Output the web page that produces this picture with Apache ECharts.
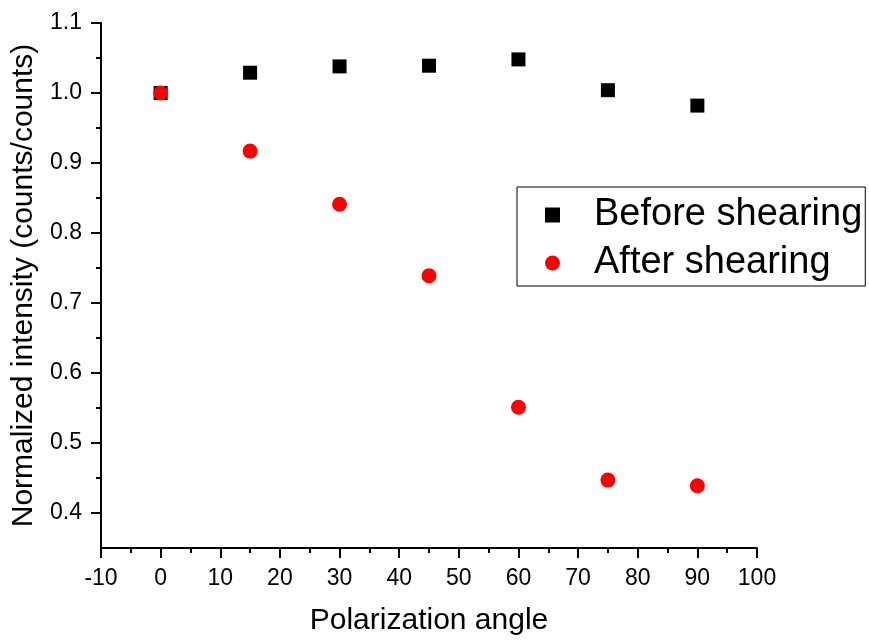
<!DOCTYPE html>
<html>
<head>
<meta charset="utf-8">
<script src="https://cdn.jsdelivr.net/npm/echarts@6/dist/echarts.min.js"></script>
<style>
  html, body { margin: 0; padding: 0; background: #fff; }
  #chart { width: 869px; height: 641px; }
</style>
</head>
<body>
<div id="chart"></div>
<script>
// Polarization angles (degrees)
const angles = [0, 15, 30, 45, 60, 75, 90];
// Normalized intensity before and after shearing
const beforeShearing = [1.000, 1.029, 1.038, 1.039, 1.048, 1.004, 0.982];
const afterShearing  = [1.000, 0.917, 0.841, 0.739, 0.551, 0.447, 0.439];
// Y axis tick values: labelled majors and unlabelled minors
const yMajorTicks = [0.4, 0.5, 0.6, 0.7, 0.8, 0.9, 1.0, 1.1];
const yMinorTicks = [0.45, 0.55, 0.65, 0.75, 0.85, 0.95, 1.05];

const font = 'Liberation Sans, Arial, sans-serif';
const chart = echarts.init(document.getElementById('chart'), null, { renderer: 'canvas' });

const pairs = arr => angles.map((a, i) => [a, arr[i]]);
const axisStroke = { color: '#000', width: 2 };

chart.setOption({
  animation: false,
  backgroundColor: '#ffffff',
  grid: { left: 101, right: 112, top: 23, bottom: 91 },
  xAxis: {
    type: 'value',
    min: -10, max: 100, interval: 10,
    name: 'Polarization angle',
    nameLocation: 'middle',
    nameGap: 58,
    nameTextStyle: { fontFamily: font, fontSize: 30, color: '#000' },
    axisLine: { show: true, onZero: false, lineStyle: axisStroke },
    axisTick: { show: true, inside: false, length: 10, lineStyle: axisStroke },
    minorTick: { show: true, splitNumber: 2, length: 5, lineStyle: axisStroke },
    axisLabel: { fontFamily: font, fontSize: 23, color: '#000', margin: 19 },
    splitLine: { show: false }
  },
  yAxis: [
    {
      type: 'value',
      min: 0.35, max: 1.1,
      name: 'Normalized intensity (counts/counts)',
      nameLocation: 'middle',
      nameGap: 57,
      nameTextStyle: { fontFamily: font, fontSize: 30, color: '#000' },
      axisLine: { show: true, onZero: false, lineStyle: axisStroke },
      axisTick: { show: true, inside: false, length: 10, customValues: yMajorTicks, lineStyle: axisStroke },
      axisLabel: {
        fontFamily: font, fontSize: 23, color: '#000', margin: 19,
        customValues: yMajorTicks,
        formatter: v => v.toFixed(1)
      },
      splitLine: { show: false }
    },
    {
      type: 'value',
      position: 'left',
      min: 0.35, max: 1.1,
      axisLine: { show: false, onZero: false },
      axisTick: { show: true, inside: false, length: 5, customValues: yMinorTicks, lineStyle: axisStroke },
      axisLabel: { show: false },
      splitLine: { show: false }
    }
  ],
  legend: {
    orient: 'vertical',
    left: 517, top: 187,
    padding: [9, 3, 4, 28],
    itemGap: 10,
    itemWidth: 15, itemHeight: 15,
    borderColor: '#000', borderWidth: 1,
    textStyle: { fontFamily: font, fontSize: 38, color: '#000', padding: [0, 0, 0, 29] },
    data: ['Before shearing', 'After shearing']
  },
  series: [
    {
      name: 'Before shearing',
      type: 'scatter',
      symbol: 'rect',
      symbolSize: 14,
      itemStyle: { color: '#000000', opacity: 1 },
      data: pairs(beforeShearing)
    },
    {
      name: 'After shearing',
      type: 'scatter',
      symbol: 'circle',
      symbolSize: 15,
      itemStyle: { color: '#ff0000', opacity: 1 },
      data: pairs(afterShearing)
    }
  ]
});
</script>
</body>
</html>
